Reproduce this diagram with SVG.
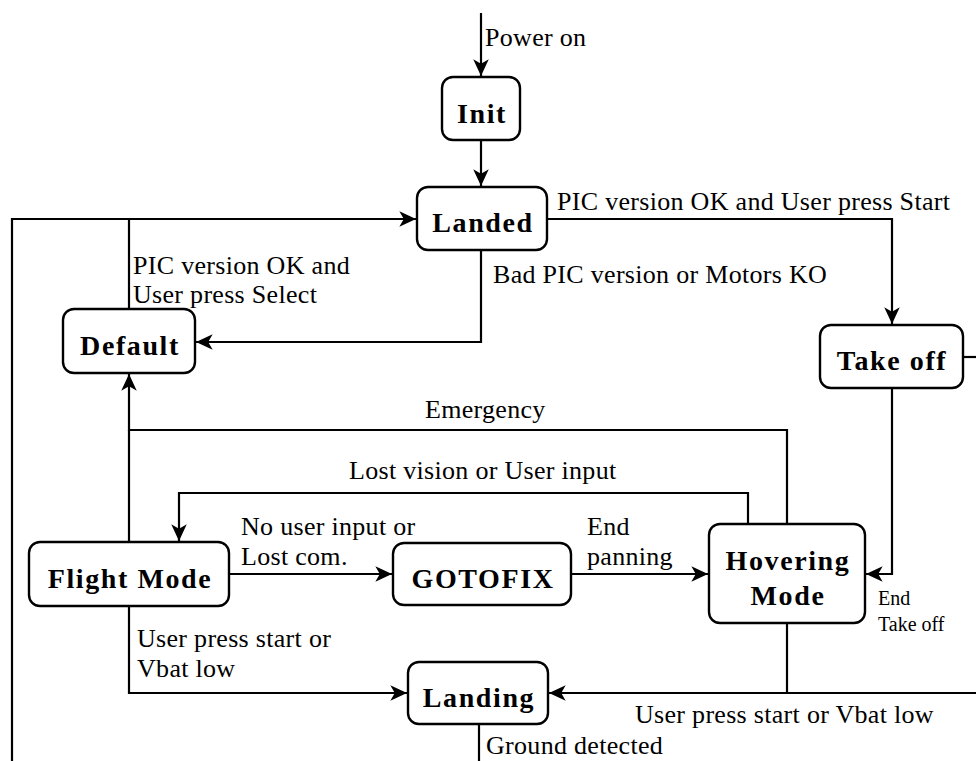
<svg xmlns="http://www.w3.org/2000/svg" width="976" height="761" viewBox="0 0 976 761">
  <defs>
    <marker id="arrow" markerUnits="userSpaceOnUse" markerWidth="20" markerHeight="20" viewBox="-16 -8 18 16" refX="0" refY="0" orient="auto">
      <path d="M0,0 L-15,-7 L-11,0 L-15,7 Z" fill="#000"/>
    </marker>
  </defs>
  <style>
    .box { fill: #fff; stroke: #000; stroke-width: 2.4; }
    .name { font-family: "Liberation Serif", "Times New Roman", serif; font-weight: bold; font-size: 28px; letter-spacing: 1.6px; text-anchor: middle; fill: #000; }
    .lbl { font-family: "Liberation Serif", "Times New Roman", serif; font-size: 26px; letter-spacing: 0.3px; fill: #000; }
    .small { font-family: "Liberation Serif", "Times New Roman", serif; font-size: 20px; fill: #000; }
    .edge { fill: none; stroke: #000; stroke-width: 2.2; }
    .arr { marker-end: url(#arrow); }
  </style>
  <rect width="976" height="761" fill="#fff"/>

  <g id="connectors">
    <!-- power on -->
    <path class="edge arr" d="M481,13 V76"/>
    <text class="lbl" x="485" y="46">Power on</text>
    <!-- Init to Landed -->
    <path class="edge arr" d="M481,140 V186"/>
    <!-- Landed to Take off -->
    <path class="edge arr" d="M547,219 H892 V324"/>
    <text class="lbl" x="557" y="210">PIC version OK and User press Start</text>
    <!-- Landed to Default -->
    <path class="edge arr" d="M481,250 V342 H196"/>
    <text class="lbl" x="493" y="283">Bad PIC version or Motors KO</text>
    <!-- Default to Landed, and left return line -->
    <path class="edge" d="M129,309 V219"/>
    <path class="edge arr" d="M12,761 V219 H416"/>
    <text class="lbl" x="133" y="274">PIC version OK and</text>
    <text class="lbl" x="133" y="303">User press Select</text>
    <!-- Take off exits right -->
    <path class="edge" d="M963,357 H976"/>
    <!-- Take off to Hovering -->
    <path class="edge arr" d="M892,388 V574 H866"/>
    <text class="small" x="878" y="605">End</text>
    <text class="small" x="878" y="631">Take off</text>
    <!-- Emergency -->
    <path class="edge arr" d="M787,524 V430 H129 V374"/>
    <path class="edge" d="M129,542 V430"/>
    <text class="lbl" x="425" y="418">Emergency</text>
    <!-- Lost vision -->
    <path class="edge arr" d="M748,524 V493 H179 V541"/>
    <text class="lbl" x="349" y="479">Lost vision or User input</text>
    <!-- Flight Mode to GOTOFIX -->
    <path class="edge arr" d="M229,574 H392"/>
    <text class="lbl" x="241" y="535">No user input or</text>
    <text class="lbl" x="241" y="565">Lost com.</text>
    <!-- GOTOFIX to Hovering -->
    <path class="edge arr" d="M571,574 H708"/>
    <text class="lbl" x="587" y="535">End</text>
    <text class="lbl" x="587" y="565">panning</text>
    <!-- Flight Mode to Landing -->
    <path class="edge arr" d="M129,606 V693 H407"/>
    <text class="lbl" x="137" y="647">User press start or</text>
    <text class="lbl" x="137" y="677">Vbat low</text>
    <!-- Hovering / right side to Landing -->
    <path class="edge arr" d="M976,693 H549"/>
    <path class="edge" d="M787,623 V693"/>
    <text class="lbl" x="635" y="723">User press start or Vbat low</text>
    <!-- Landing exits bottom -->
    <path class="edge" d="M479,724 V761"/>
    <text class="lbl" x="486" y="754">Ground detected</text>
  </g>

  <g id="init">
    <rect class="box" x="442" y="77" width="78" height="63" rx="11"/>
    <text class="name" x="482" y="123">Init</text>
  </g>
  <g id="landed">
    <rect class="box" x="417" y="187" width="130" height="63" rx="11"/>
    <text class="name" x="483" y="232">Landed</text>
  </g>
  <g id="default">
    <rect class="box" x="63" y="309" width="132" height="64" rx="11"/>
    <text class="name" x="130" y="355">Default</text>
  </g>
  <g id="takeoff">
    <rect class="box" x="820" y="325" width="143" height="63" rx="11"/>
    <text class="name" x="892" y="370">Take off</text>
  </g>
  <g id="flightmode">
    <rect class="box" x="29" y="542" width="200" height="64" rx="11"/>
    <text class="name" x="130" y="588">Flight Mode</text>
  </g>
  <g id="gotofix">
    <rect class="box" x="393" y="543" width="178" height="62" rx="11"/>
    <text class="name" x="483" y="588">GOTOFIX</text>
  </g>
  <g id="hovering">
    <rect class="box" x="709" y="524" width="156" height="99" rx="11"/>
    <text class="name" x="788" y="570">Hovering</text>
    <text class="name" x="788" y="605">Mode</text>
  </g>
  <g id="landing">
    <rect class="box" x="408" y="662" width="140" height="62" rx="11"/>
    <text class="name" x="479" y="707">Landing</text>
  </g>
</svg>
